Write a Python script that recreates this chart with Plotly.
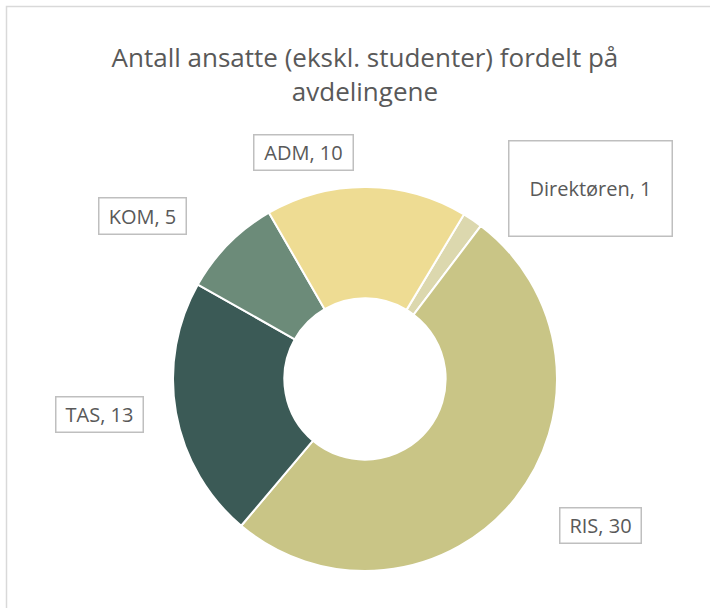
import plotly.graph_objects as go

labels = ["Direktøren", "RIS", "TAS", "KOM", "ADM"]
values = [1, 30, 13, 5, 10]
colors = ["#dcd8ae", "#c9c586", "#3b5a56", "#6c8b79", "#eedc93"]

W, H = 710, 608

fig = go.Figure(go.Pie(
    labels=labels, values=values, hole=0.42, sort=False,
    direction="clockwise", rotation=31,
    marker=dict(colors=colors, line=dict(color="white", width=2)),
    textinfo="none", hoverinfo="label+value",
    domain=dict(x=[(365-192)/W, (365+192)/W], y=[1-571/H, 1-187/H]),
    showlegend=False,
))

def px(x, y):
    return x / W, 1 - y / H

# label boxes: (text, left, top, right, bottom) in pixels
boxes = [
    ("ADM, 10", 253, 134, 354, 171),
    ("KOM, 5", 98, 197, 187, 235),
    ("TAS, 13", 55, 396, 144, 433),
    ("RIS, 30", 559, 507, 642, 544),
    ("Direktøren, 1", 508, 140, 673, 237),
]
anns = []
for t, l, tp, r, b in boxes:
    x, y = px((l + r) / 2, (tp + b) / 2)
    anns.append(dict(text=t, x=x, y=y, xref="paper", yref="paper", showarrow=False,
                     xanchor="center", yanchor="middle",
                     width=r - l - 3, height=b - tp - 3,
                     font=dict(family="Open Sans", size=20, color="#595959"),
                     bordercolor="#bfbfbf", borderwidth=1.5, borderpad=0,
                     bgcolor="white"))

fig.update_layout(
    width=W, height=H,
    margin=dict(l=0, r=0, t=0, b=0),
    paper_bgcolor="white", plot_bgcolor="white",
    title=dict(text="Antall ansatte (ekskl. studenter) fordelt på<br>avdelingene",
               x=0.514, xanchor="center", y=1-67/H, yanchor="middle",
               font=dict(family="Open Sans", size=26, color="#595959")),
    annotations=anns,
    shapes=[dict(type="rect", xref="paper", yref="paper",
                 x0=6.5/W, x1=1.05, y0=-0.05, y1=1-6.5/H,
                 line=dict(color="#d9d9d9", width=1.5))],
)

fig.write_html("out.html", config={"displayModeBar": False},
               post_script="document.body.style.margin='0';document.body.style.padding='0';")
